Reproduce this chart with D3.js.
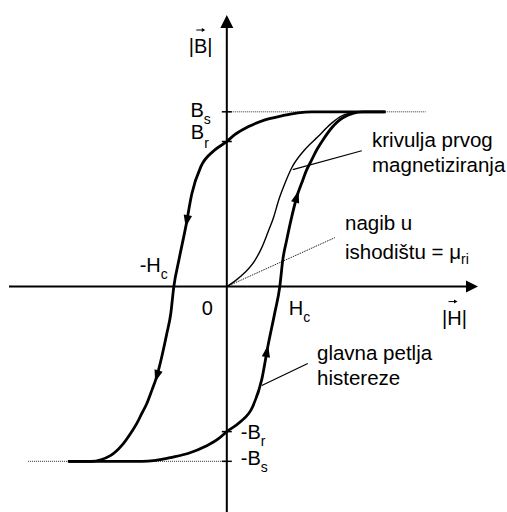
<!DOCTYPE html>
<html>
<head>
<meta charset="utf-8">
<title>Petlja histereze</title>
<style>
body {
    margin: 0px;
    overflow: hidden;
    background: #fff;
}
svg text {
    font-family: "Liberation Sans", Arial, sans-serif;
    fill: #000;
}
</style>
<script src="https://cdnjs.cloudflare.com/ajax/libs/d3/7.8.5/d3.min.js"></script>
</head>
<body>
<div id="chart"></div>
<script>

// H in units of Hc, B in units of Bs
var Hc = 1, Bs = 1, Br = 0.83;

// rising branch of the main loop (the falling one is its mirror through the origin)
var hRise = [-3.0, -1.60, -1.34, -1.04, -0.72, -0.40, -0.15, 0, 0.245, 0.49, 0.66, 0.774, 0.906, 1.0,
             1.057, 1.132, 1.226, 1.321, 1.415, 1.509, 1.604, 1.698, 1.792, 1.981, 2.189, 2.566, 2.981];
var bRise = [-1, -1, -0.994, -0.977, -0.954, -0.914, -0.869, -0.83, -0.777, -0.686, -0.531, -0.343, -0.149, 0,
             0.154, 0.269, 0.4, 0.514, 0.594, 0.669, 0.726, 0.783, 0.829, 0.909, 0.966, 1, 1];

// initial magnetisation curve
var hVirgin = [0, 0.151, 0.340, 0.528, 0.660, 0.774, 0.887, 0.981, 1.094, 1.226, 1.453, 1.717, 1.962, 2.17, 2.509];
var bVirgin = [0, 0.031, 0.080, 0.149, 0.223, 0.309, 0.4, 0.497, 0.589, 0.68, 0.777, 0.857, 0.931, 0.977, 1];

var slopeEnd = [2.04, 0.28];          // tangent at the origin (mu_ri)
var satExtent = 3.75;                 // dotted +-Bs guides
var arrowB = [0.514, -0.371];         // arrows on the rising branch

var bTicks = [Bs, Br, -Br, -Bs];
var bTickLabels = [["B", "s"], ["B", "r"], ["-B", "r"], ["-B", "s"]];
var hTicks = [-Hc, 0, Hc];
var hTickLabels = [["-H", "c"], ["0", ""], ["H", "c"]];

var virginLeader = [[1.245, 0.669], [2.547, 0.777]];
var loopLeader = [[0.66, -0.566], [1.528, -0.44]];

var width = 507, height = 512;

var svg = d3.select("#chart").append("svg")
    .attr("width", width)
    .attr("height", height);

var x = d3.scaleLinear().domain([-4.11, 4.74]).range([9, 478]);
var y = d3.scaleLinear().domain([-1.29, 1.554]).range([512, 15]);
var x0 = x(0), y0 = y(0);

var line = d3.line()
    .x(function (d) { return x(d[0]); })
    .y(function (d) { return y(d[1]); })
    .curve(d3.curveMonotoneX);

var rise = hRise.map(function (h, i) { return [h, bRise[i]]; });
var fall = rise.map(function (d) { return [-d[0], -d[1]]; }).reverse();
var virgin = hVirgin.map(function (h, i) { return [h, bVirgin[i]]; });

// dotted saturation guides
svg.append("line")
    .attr("x1", x0).attr("x2", x(satExtent))
    .attr("y1", y(Bs)).attr("y2", y(Bs))
    .attr("stroke", "#333").attr("stroke-width", 1).attr("stroke-dasharray", "1,1");
svg.append("line")
    .attr("x1", x(-satExtent)).attr("x2", x0)
    .attr("y1", y(-Bs)).attr("y2", y(-Bs))
    .attr("stroke", "#333").attr("stroke-width", 1).attr("stroke-dasharray", "1,1");

// slope at the origin
svg.append("line")
    .attr("x1", x0).attr("y1", y0)
    .attr("x2", x(slopeEnd[0])).attr("y2", y(slopeEnd[1]))
    .attr("stroke", "#222").attr("stroke-width", 1).attr("stroke-dasharray", "1.5,1");

// axes
svg.append("line")
    .attr("x1", x(-4.11)).attr("x2", x(4.74) - 8)
    .attr("y1", y0).attr("y2", y0)
    .attr("stroke", "#000").attr("stroke-width", 2);
svg.append("line")
    .attr("x1", x0).attr("x2", x0)
    .attr("y1", y(-1.29)).attr("y2", y(1.554) + 8)
    .attr("stroke", "#000").attr("stroke-width", 2);
svg.append("path")
    .attr("d", "M" + x(4.74) + "," + y0 + "L" + (x(4.74) - 12) + "," + (y0 - 6) + "L" + (x(4.74) - 12) + "," + (y0 + 6) + "Z")
    .attr("fill", "#000");
svg.append("path")
    .attr("d", "M" + x0 + "," + y(1.554) + "L" + (x0 - 6.5) + "," + (y(1.554) + 13) + "L" + (x0 + 6.5) + "," + (y(1.554) + 13) + "Z")
    .attr("fill", "#000");

// B ticks
svg.selectAll(".btick").data(bTicks).enter().append("line")
    .attr("class", "btick")
    .attr("x1", x0 - 5).attr("x2", x0 + 5)
    .attr("y1", function (d) { return y(d); })
    .attr("y2", function (d) { return y(d); })
    .attr("stroke", "#000").attr("stroke-width", 1.5);

// curves
svg.append("path").attr("d", line(virgin))
    .attr("fill", "none").attr("stroke", "#000").attr("stroke-width", 1.4);
var risePath = svg.append("path").attr("d", line(rise))
    .attr("fill", "none").attr("stroke", "#000").attr("stroke-width", 2.8)
    .attr("stroke-linejoin", "round");
var fallPath = svg.append("path").attr("d", line(fall))
    .attr("fill", "none").attr("stroke", "#000").attr("stroke-width", 2.8)
    .attr("stroke-linejoin", "round");

function placeArrow(node, bVal, reverse) {
    var L = node.getTotalLength(), s = 0, yt = y(bVal);
    for (var t = 0; t <= L; t += 0.5) {
        if (node.getPointAtLength(t).y <= yt) { s = t; break; }
    }
    var p0 = node.getPointAtLength(Math.max(0, s - 4)),
        p1 = node.getPointAtLength(Math.min(L, s + 4)),
        c = node.getPointAtLength(s);
    var ang = Math.atan2(p1.y - p0.y, p1.x - p0.x) * 180 / Math.PI;
    if (reverse) ang += 180;
    svg.append("path")
        .attr("d", "M6,0L-6,-4.2L-6,4.2Z")
        .attr("transform", "translate(" + c.x + "," + c.y + ") rotate(" + ang + ")")
        .attr("fill", "#000");
}
arrowB.forEach(function (b) {
    placeArrow(risePath.node(), b, false);
    placeArrow(fallPath.node(), -b, true);
});

// leader lines
[virginLeader, loopLeader].forEach(function (l) {
    svg.append("line")
        .attr("x1", x(l[0][0])).attr("y1", y(l[0][1]))
        .attr("x2", x(l[1][0])).attr("y2", y(l[1][1]))
        .attr("stroke", "#000").attr("stroke-width", 1.2);
});

// label with subscript
function subLabel(px, py, txt, sub, anchor, dy) {
    var t = svg.append("text")
        .attr("x", px).attr("y", py)
        .attr("text-anchor", anchor)
        .style("font-size", "20px")
        .text(txt);
    if (sub) {
        t.append("tspan").attr("dy", dy).style("font-size", "14px").text(sub);
    }
    return t;
}

// B tick labels
bTicks.forEach(function (b, i) {
    var lab = bTickLabels[i];
    if (b > 0) {
        var off = (b === Bs) ? 5 : -3;
        subLabel(x0 - (b === Bs ? 16 : 18), y(b) + off, lab[0], lab[1], "end", b === Bs ? 7 : 9);
    } else {
        var off2 = (b === -Br) ? 7 : 4;
        subLabel(x0 + 14, y(b) + off2, lab[0], lab[1], "start", 7);
    }
});

// H tick labels
hTicks.forEach(function (h, i) {
    var lab = hTickLabels[i];
    if (h < 0) subLabel(x(h) - 6, y0 - 15, lab[0], lab[1], "end", 7);
    else if (h === 0) subLabel(x0 - 14, y0 + 28, lab[0], "", "end", 0);
    else subLabel(x(h) + 9, y0 + 28, lab[0], lab[1], "start", 7);
});

// axis titles with vector arrows
function vecArrow(cx, cy) {
    svg.append("line").attr("x1", cx - 4.5).attr("x2", cx + 2).attr("y1", cy).attr("y2", cy)
        .attr("stroke", "#000").attr("stroke-width", 1);
    svg.append("path").attr("d", "M" + (cx + 4.5) + "," + cy + "L" + (cx + 1) + "," + (cy - 2) + "L" + (cx + 1) + "," + (cy + 2) + "Z")
        .attr("fill", "#000");
}
svg.append("text").attr("x", x0 - 38).attr("y", 53).style("font-size", "20px").text("|B|");
vecArrow(x0 - 26, 30);
svg.append("text").attr("x", 442).attr("y", y0 + 38).style("font-size", "20px").text("|H|");
vecArrow(453, y0 + 15);

// annotations
function note(px, py, lines, gap) {
    var t = svg.append("text").attr("x", px).attr("y", py).style("font-size", "20.5px");
    lines.forEach(function (s, i) {
        t.append("tspan").attr("x", px).attr("dy", i ? gap : 0).text(s);
    });
    return t;
}
note(372, 147, ["krivulja prvog", "magnetiziranja"], 25);
note(317, 360, ["glavna petlja", "histereze"], 25);
note(345, 230, ["nagib u"], 0);
var mu = svg.append("text").attr("x", 345).attr("y", 259).style("font-size", "20.5px").text("ishodištu = μ");
mu.append("tspan").attr("dy", 5).style("font-size", "14px").text("ri");

</script>
</body>
</html>
